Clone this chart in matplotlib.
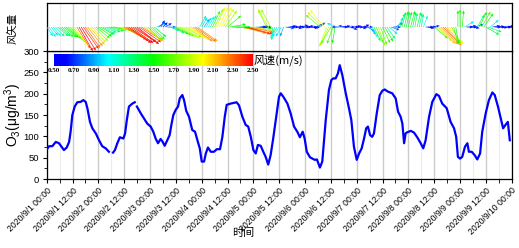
import numpy as np
import matplotlib
matplotlib.use('Agg')
import matplotlib.pyplot as plt
from matplotlib.colors import LinearSegmentedColormap, Normalize
from matplotlib.cm import ScalarMappable
from matplotlib.ticker import MultipleLocator

plt.rcParams['font.family'] = ['Liberation Sans', 'Noto Sans CJK SC', 'DejaVu Sans']
plt.rcParams['mathtext.fontset'] = 'custom'
plt.rcParams['mathtext.rm'] = 'Liberation Sans'
plt.rcParams['mathtext.it'] = 'Liberation Sans:italic'

# ---------------- data ----------------
# O3 readings: hours since 2020/9/1 00:00, values in ug/m3 (nan = gap)
o3_hours = [0, 1.1, 2.6, 4.2, 5.7, 8.0, 9.3, 10.4, 11.1, 11.9, 13, 14.2, 15.8, 17, 18.1, 18.9,
            20.1, 21.2, 22.8, 24.3, 25.8, 27.4, 28.9, 30, 30.8, 31.7, 32.8, 34, 35.6, 36.4,
            37.2, 38.2, 39.8, 40.9, 41.4, 41.9, 43.7, 45.2, 46.7, 48.3, 49.5, 50.6, 51.7,
            52.9, 53.9, 54.8, 56, 57.1, 57.9, 58.8, 59.9, 61, 61.8, 63, 63.8, 64.8, 66.1,
            67.6, 68.9, 70, 71.1, 72, 73.1, 73.9, 74.9, 76.2, 77.7, 79, 80.5, 81.6, 82.7,
            83.6, 85.5, 88.2, 89.3, 90.9, 92.4, 93.6, 94.8, 96, 97.1, 98.1, 99.4, 100.6,
            101.7, 102.9, 104, 105.2, 106.8, 107.9, 108.7, 109.9, 111.8, 113.3, 114.9,
            116.4, 117.6, 118.9, 119.8, 120.8, 122.3, 123.4, 124.5, 125.5, 126.9, 128,
            129.6, 131.1, 132.2, 133.1, 134.2, 135.3, 136.1, 137.3, 138.9, 140.4, 141.5,
            142.7, 144, 145.1, 146.3, 147.4, 148.4, 149.2, 150.2, 151.2, 152, 153.3, 154.7,
            155.9, 157, 158.5, 160.5, 162.1, 163.2, 164.4, 165.2, 166, 166.7, 167.2, 169.1,
            170.6, 172.1, 173.7, 174.9, 176, 177.6, 179.1, 181, 182.2, 183.7, 185.8, 187.6,
            189.2, 190.2, 191, 192, 193, 194.3, 195.4, 196.1, 197.4, 198.8, 200, 201.3,
            202.3, 203.9, 205.4, 207, 208.1, 209.6, 211.1, 212, 213.1, 214.2, 215.1]
o3_values = [69, 77, 77, 87, 84, 68, 74, 87, 111, 150, 170, 180, 181, 185, 181, 166,
             134, 119, 107, 91, 77, 72, 64, np.nan, 62, 68, 84, 98, 95, 107,
             138, 170, 177, 180, np.nan, 170, 154, 142, 130, 123, 111, 95, 84,
             94, 87, 78, 91, 103, 127, 150, 162, 170, 189, 197, 185, 160, 146,
             115, 111, 91, 72, 41, 41, 60, 74, 64, 64, 70, 70, 99, 146,
             174, 177, 180, 173, 146, 127, 123, 99, 68, 60, 80, 78, 64,
             52, 34, 56, 95, 154, 193, 201, 193, 177, 154, 123,
             111, 98, 111, 95, 64, 51, 48, 45, 46, 27, 41,
             138, 209, 232, 236, 236, 248, 267, 244, 201, 166, 138,
             76, 45, 60, 72, 95, 119, 123, 103, 99, 107, 154, 197,
             207, 210, 205, 201, 189, 158, 146, 130, 84, 107, 109, 113,
             109, 98, 84, 72, 91, 146, 181, 199, 195, 177, 166, 134,
             119, 99, 52, 48, 52, 76, 84, 64, 64, 56, 46, 60,
             111, 154, 185, 203, 197, 170, 138, 119, 127, 134, 91]

# hourly wind speed (m/s) and arrow direction (deg, 0 = east, 90 = north)
wind_speed_d1 = [1.0, 1.1, 1.0, 1.1, 1.2, 1.3, 1.3, 1.4, 1.5, 1.5, 1.6, 1.7, 1.8, 2.0, 2.3, 2.5, 2.5, 2.4, 2.3, 2.2, 2.1, 1.9, 1.8, 1.6]
wind_dir_d1 = [-55, -55, -50, -50, -45, -40, -40, -40, -38, -40, -42, -45, -50, -55, -58, -60, -58, -55, -55, -52, -50, -48, -45, -40]
wind_speed_d2 = [1.5, 1.4, 1.3, 1.2, 1.3, 1.4, 1.5, 1.6, 1.7, 1.8, 1.9, 2.1, 2.3, 2.4, 2.5, 2.5, 2.5, 2.4, 2.5, 2.4, 2.3, 2.1, 1.9, 1.7]
wind_dir_d2 = [-35, -30, -30, -25, -20, -15, -10, -10, -12, -15, -20, -25, -30, -32, -35, -35, -33, -35, -38, -35, -33, -35, -40, -45]
wind_speed_d3 = [1.7, 1.6, 1.4, 1.0, 0.8, 0.7, 0.6, 0.7, 0.8, 1.0, 1.3, 1.5, 1.6, 1.7, 1.8, 1.9, 1.8, 1.9, 2.0, 2.1, 2.2, 2.3, 2.2, 1.2]
wind_dir_d3 = [-45, -45, -40, 20, 40, 60, 45, 30, 0, -20, -25, -25, -28, -30, -30, -32, -30, -30, -32, -34, -36, -35, -35, 60]
wind_speed_d4 = [1.0, 0.9, 1.0, 1.1, 1.2, 1.6, 1.8, 1.9, 2.0, 2.0, 1.9, 1.8, 1.6, 1.5, 1.4, 1.5, 1.6, 1.6, 1.8, 2.2, 2.4, 2.4, 2.3, 2.2]
wind_dir_d4 = [60, 55, 60, 60, 62, 65, 65, 68, 65, 62, 60, 55, 40, 10, 0, 0, -5, -8, -10, -15, -15, -15, -12, -10]
wind_speed_d5 = [2.0, 1.5, 0.9, 0.6, 0.6, 0.7, 1.7, 1.9, 1.8, 1.2, 1.1, 1.0, 1.1, 1.0, 0.9, 0.8, 0.7, 0.6, 0.6, 0.7, 0.6, 0.6, 0.7, 0.6]
wind_dir_d5 = [-10, -5, 0, 0, 5, 0, 115, 120, 118, -95, -110, -120, -125, -120, -110, -10, 0, 10, 0, -10, 5, 0, 15, 0]
wind_speed_d6 = [0.6, 0.6, 0.7, 0.6, 0.6, 0.7, 0.8, 1.7, 1.9, 2.0, 1.9, 1.8, 1.7, 1.6, 1.5, 1.0, 0.7, 0.6, 0.6, 0.7, 0.6, 0.7, 0.6, 0.6]
wind_dir_d6 = [0, 10, 0, -10, 0, 20, 30, 140, 135, 130, -110, -115, -120, -110, -100, 160, 180, 0, 10, 170, 0, -20, 0, 10]
wind_speed_d7 = [0.6, 0.7, 0.6, 0.6, 0.7, 0.8, 0.9, 1.1, 1.4, 1.6, 1.8, 1.7, 1.6, 1.5, 1.3, 1.0, 0.8, 0.7, 0.8, 1.0, 1.3, 1.4, 1.5, 1.4]
wind_dir_d7 = [0, -10, 0, 20, 0, -30, -50, -60, -65, -65, -70, -70, -65, -60, -55, -40, -20, 0, 30, 60, 70, 75, 75, 78]
wind_speed_d8 = [1.4, 1.5, 1.4, 1.3, 1.4, 1.3, 1.2, 1.1, 0.7, 0.6, 0.6, 0.7, 1.6, 1.9, 2.1, 2.2, 2.3, 2.2, 2.1, 2.0, 1.7, 1.6, 1.5, 1.5]
wind_dir_d8 = [78, 75, 78, 80, 75, 78, 80, 70, 0, -10, 0, 10, -40, -42, -45, -45, -45, -48, -50, -50, -60, -75, -80, 90]
wind_speed_d9 = [1.6, 1.5, 1.0, 0.6, 0.7, 0.6, 0.6, 0.8, 1.3, 1.5, 1.6, 1.5, 1.4, 1.3, 1.0, 0.7, 0.6, 0.7, 0.6, 0.6, 0.7, 0.6, 0.6, 0.5]
wind_dir_d9 = [90, 85, 30, 0, 10, 0, -10, 20, 60, 65, 60, 55, -30, -20, 40, 10, 0, 5, 0, -5, 0, 0, 10, 0]

x_tick_labels = ['2020/9/1 00:00', '2020/9/1 12:00', '2020/9/2 00:00', '2020/9/2 12:00',
                 '2020/9/3 00:00', '2020/9/3 12:00', '2020/9/4 00:00', '2020/9/4 12:00',
                 '2020/9/5 00:00', '2020/9/5 12:00', '2020/9/6 00:00', '2020/9/6 12:00',
                 '2020/9/7 00:00', '2020/9/7 12:00', '2020/9/8 00:00', '2020/9/8 12:00',
                 '2020/9/9 00:00', '2020/9/9 12:00', '2020/9/10 00:00']
y_ticks = [0, 50, 100, 150, 200, 250, 300]
cbar_ticks = [0.5, 0.7, 0.9, 1.1, 1.3, 1.5, 1.7, 1.9, 2.1, 2.3, 2.5]

# ---------------- figure ----------------
wind_speed = np.array(wind_speed_d1 + wind_speed_d2 + wind_speed_d3 + wind_speed_d4 + wind_speed_d5 +
                      wind_speed_d6 + wind_speed_d7 + wind_speed_d8 + wind_speed_d9, dtype=float)
wind_dir = np.deg2rad(np.array(wind_dir_d1 + wind_dir_d2 + wind_dir_d3 + wind_dir_d4 + wind_dir_d5 +
                               wind_dir_d6 + wind_dir_d7 + wind_dir_d8 + wind_dir_d9, dtype=float))
wind_hours = np.arange(len(wind_speed))
u = wind_speed * np.cos(wind_dir)
v = wind_speed * np.sin(wind_dir)

cmap = LinearSegmentedColormap.from_list(
    'ws', [(0.0, '#0000ff'), (0.06, '#0000ff'), (0.27, '#00ffff'), (0.5, '#00ff00'),
           (0.75, '#ffff00'), (1.0, '#ff0000')])
norm = Normalize(vmin=0.5, vmax=2.5)

fig = plt.figure(figsize=(5.19, 2.48), dpi=100)
ax = fig.add_axes([0.090, 0.278, 0.896, 0.516])
axw = fig.add_axes([0.090, 0.794, 0.896, 0.194])

for a in (ax, axw):
    a.set_xlim(0, 216)
    a.xaxis.set_major_locator(MultipleLocator(12))
    a.xaxis.set_minor_locator(MultipleLocator(6))
    a.grid(axis='x', which='major', color='#cccccc', lw=1.0, zorder=0)
    a.grid(axis='x', which='minor', color='#ececec', lw=0.8, zorder=0)
    a.set_axisbelow(True)
    for s in a.spines.values():
        s.set_linewidth(0.9)
        s.set_color('black')

# wind vectors
axw.set_ylim(-1, 1)
axw.quiver(wind_hours, np.zeros_like(wind_hours, dtype=float), u, v, wind_speed,
           cmap=cmap, norm=norm, angles='uv', scale_units='inches', scale=9,
           width=0.0014, headwidth=4.5, headlength=5, headaxislength=4.5, zorder=3)
axw.tick_params(which='both', length=0, labelbottom=False, labelleft=False)
axw.set_yticks([])

# O3 line
ax.plot(o3_hours, o3_values, color='#0000ff', lw=1.6, zorder=3)
ax.set_ylim(0, 300)
ax.set_yticks(y_ticks)
ax.yaxis.set_minor_locator(MultipleLocator(25))
ax.set_xticks(np.arange(0, 217, 12))
ax.set_xticklabels(x_tick_labels, rotation=45, ha='right', va='top', rotation_mode='anchor', fontsize=6.2)
ax.tick_params(axis='y', which='major', labelsize=6.8, length=3, width=0.8, pad=2.5)
ax.tick_params(axis='y', which='minor', length=2, width=0.6)
ax.tick_params(axis='x', which='major', length=3, width=0.8, pad=2)
ax.tick_params(axis='x', which='minor', length=3, width=0.6)

# colorbar inset
cax = fig.add_axes([0.104, 0.734, 0.383, 0.048])
cb = fig.colorbar(ScalarMappable(norm=norm, cmap=cmap), cax=cax, orientation='horizontal')
cb.outline.set_visible(False)
cb.set_ticks(cbar_ticks)
cb.set_ticklabels(['%.2f' % t for t in cbar_ticks])
cax.tick_params(length=0, pad=1.5)
for lab in cax.get_xticklabels():
    lab.set_fontfamily('Liberation Serif')
    lab.set_fontweight('bold')
    lab.set_fontsize(5)
cax.text(1.005, 0.5, '风速(m/s)', transform=cax.transAxes, ha='left', va='center',
         fontsize=8, family=['Noto Sans CJK SC', 'DejaVu Sans'])

# labels
fig.text(0.026, 0.536, 'O$_3$(μg/m$^3$)', rotation=90, ha='center', va='center', fontsize=10)
fig.text(0.023, 0.887, '风矢量', rotation=90, ha='center', va='center', fontsize=7.5,
         family=['Noto Sans CJK SC', 'DejaVu Sans'])
fig.text(0.468, 0.062, '时间', ha='center', va='center', fontsize=8,
         family=['Noto Sans CJK SC', 'DejaVu Sans'])

fig.savefig('out.png', dpi=100)
